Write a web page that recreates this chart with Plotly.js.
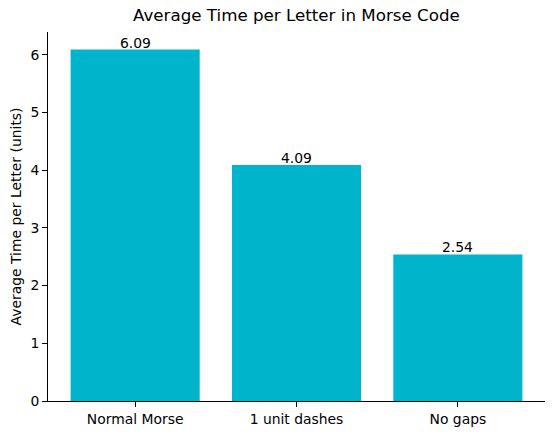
<html>
<head>
<script src="https://cdn.plot.ly/plotly-3.0.1.min.js"></script>
<style>body{margin:0;padding:0;background:#fff}</style>
</head>
<body>
<div id="myDiv" style="width:554px;height:435px"></div>
<script>
var methods = ['Normal Morse', '1 unit dashes', 'No gaps'];
var avgTime = [6.09, 4.09, 2.54];
var labels = ['6.09', '4.09', '2.54'];

var font = 'DejaVu Sans, sans-serif';

var trace1 = {
  x: [0, 1, 2],
  y: avgTime,
  type: 'bar',
  width: 0.8,
  marker: {color: '#00b4cb'},
  hoverinfo: 'none'
};

// value labels sit right on top of each bar
var notes = [];
for (var i = 0; i < avgTime.length; i++) {
  notes.push({
    x: i, y: avgTime[i], xref: 'x', yref: 'y',
    text: labels[i], showarrow: false,
    xanchor: 'center', yanchor: 'bottom', yshift: -3,
    font: {family: font, size: 13.9, color: '#000'}
  });
}

var layout = {
  width: 554,
  height: 435,
  margin: {l: 48, r: 9, t: 32, b: 34},
  paper_bgcolor: '#fff',
  plot_bgcolor: '#fff',
  showlegend: false,
  font: {family: font, size: 13.9, color: '#000'},
  title: {
    text: 'Average Time per Letter in Morse Code',
    font: {family: font, size: 16.7, color: '#000'},
    x: 0.535, xanchor: 'center', y: 0.965, yanchor: 'middle'
  },
  xaxis: {
    range: [-0.54, 2.54],
    tickvals: [0, 1, 2],
    ticktext: methods,
    ticks: 'outside', ticklen: 5, tickwidth: 1, tickcolor: '#000',
    showline: true, linecolor: '#000', linewidth: 1,
    showgrid: false, zeroline: false, fixedrange: true
  },
  yaxis: {
    range: [0, 6.3945],
    tickvals: [0, 1, 2, 3, 4, 5, 6],
    ticks: 'outside', ticklen: 5, tickwidth: 1, tickcolor: '#000',
    showline: true, linecolor: '#000', linewidth: 1,
    showgrid: false, zeroline: false, fixedrange: true,
    title: {text: 'Average Time per Letter (units)', font: {family: font, size: 13.9, color: '#000'}, standoff: 5}
  },
  annotations: notes,
  bargap: 0.2
};

Plotly.newPlot('myDiv', [trace1], layout, {displayModeBar: false, staticPlot: true});
</script>
</body>
</html>
